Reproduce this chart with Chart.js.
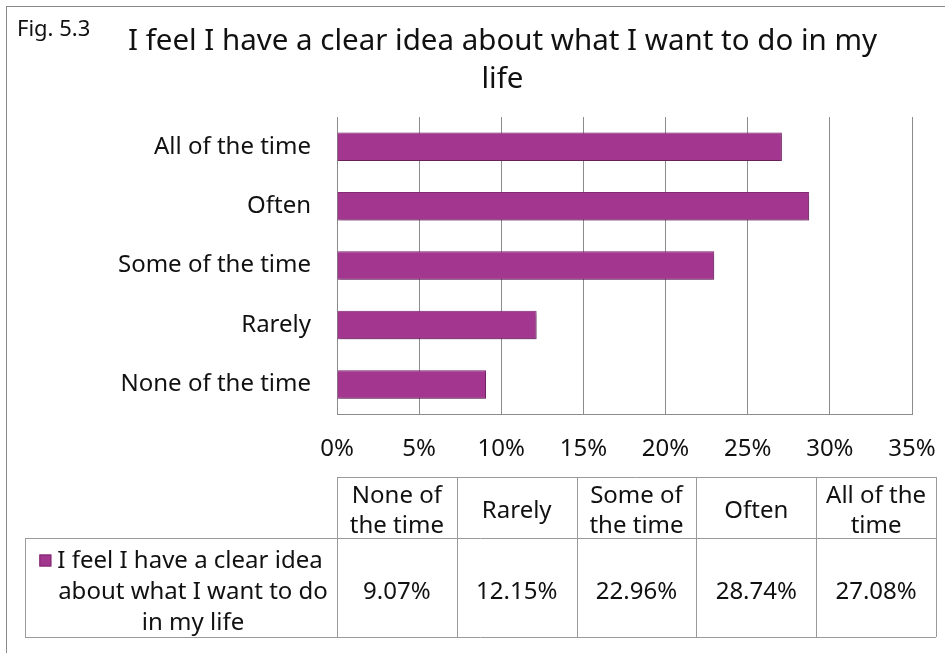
<!DOCTYPE html>
<html>
<head>
<meta charset="utf-8">
<script src="https://cdn.jsdelivr.net/npm/chart.js@4.4.0/dist/chart.umd.min.js"></script>
<style>
    html, body { margin: 0; padding: 0; background: #fff; }
    #wrap { width: 945px; height: 653px; }
</style>
</head>
<body>
<div id="wrap"><canvas id="chart" width="945" height="653"></canvas></div>
<script>
// data
const categories = ["None of the time", "Rarely", "Some of the time", "Often", "All of the time"];
const values = [9.07, 12.15, 22.96, 28.74, 27.08];
const seriesName = "I feel I have a clear idea about what I want to do in my life";
const seriesLabelLines = ["I feel I have a clear idea", "about what I want to do", "in my life"];
const titleLines = ["I feel I have a clear idea about what I want to do in my", "life"];
const figLabel = "Fig. 5.3";
const xTicks = [0, 5, 10, 15, 20, 25, 30, 35];

const FONT = "'Noto Sans', sans-serif";
const TEXT = "#111";
const BAR = "#a3368f";
const GRID = "#8c8c8c";
const TABLE_LINE = "#9a9a9a";

// table box below the plot
const tableBox = { left: 25, top: 477, headerBottom: 538, bottom: 637, right: 936 };

const wrapText = (ctx, text, maxWidth) => {
    const words = text.split(" ");
    const lines = [];
    let line = "";
    words.forEach(w => {
        const test = line ? line + " " + w : w;
        if (line && ctx.measureText(test).width > maxWidth) {
            lines.push(line);
            line = w;
        } else line = test;
    });
    if (line) lines.push(line);
    return lines;
};

const framePlugin = {
    id: "frame",
    beforeDraw(chart) {
        const { ctx, width, height } = chart;
        ctx.save();
        ctx.fillStyle = "#fff";
        ctx.fillRect(0, 0, width, height);
        ctx.strokeStyle = "#8a8a8a";
        ctx.lineWidth = 1;
        ctx.strokeRect(6.5, 6.5, width + 20, height + 20);
        ctx.fillStyle = TEXT;
        ctx.font = `22px ${FONT}`;
        ctx.textBaseline = "alphabetic";
        ctx.fillText(figLabel, 17, 36);
        ctx.restore();
    }
};

const shadowPlugin = {
    id: "barShadow",
    beforeDatasetsDraw(chart) {
        const ctx = chart.ctx;
        ctx.save();
        ctx.shadowColor = "rgba(0,0,0,0.35)";
        ctx.shadowBlur = 4;
        ctx.shadowOffsetX = 1;
        ctx.shadowOffsetY = 2;
    },
    afterDatasetsDraw(chart) {
        chart.ctx.restore();
    }
};

const tablePlugin = {
    id: "dataTable",
    afterDraw(chart) {
        const { ctx, chartArea } = chart;
        const colLeft = chartArea.left;
        const colW = (tableBox.right - colLeft) / categories.length;
        ctx.save();
        ctx.strokeStyle = TABLE_LINE;
        ctx.lineWidth = 1;

        ctx.beginPath();
        ctx.moveTo(colLeft, tableBox.top + 0.5);
        ctx.lineTo(tableBox.right, tableBox.top + 0.5);
        ctx.moveTo(tableBox.left, tableBox.headerBottom + 0.5);
        ctx.lineTo(tableBox.right, tableBox.headerBottom + 0.5);
        ctx.moveTo(tableBox.left, tableBox.bottom + 0.5);
        ctx.lineTo(tableBox.right, tableBox.bottom + 0.5);
        ctx.moveTo(tableBox.left + 0.5, tableBox.headerBottom);
        ctx.lineTo(tableBox.left + 0.5, tableBox.bottom);
        for (let i = 0; i <= categories.length; i++) {
            const x = Math.round(colLeft + i * colW) + 0.5;
            ctx.moveTo(x, tableBox.top);
            ctx.lineTo(x, tableBox.bottom);
        }
        ctx.stroke();

        ctx.fillStyle = TEXT;
        ctx.font = `24px ${FONT}`;
        ctx.textAlign = "center";
        ctx.textBaseline = "middle";
        const lh = 30;
        const headMid = (tableBox.top + tableBox.headerBottom) / 2 + 4;
        const rowMid = (tableBox.headerBottom + tableBox.bottom) / 2 + 5;

        categories.forEach((c, i) => {
            const cx = colLeft + (i + 0.5) * colW;
            const lines = wrapText(ctx, c, colW - 6);
            lines.forEach((l, k) => {
                ctx.fillText(l, cx, headMid + (k - (lines.length - 1) / 2) * lh);
            });
            ctx.fillText(values[i].toFixed(2) + "%", cx, rowMid);
        });

        // series label with legend key
        const cellMid = (tableBox.left + colLeft) / 2;
        const keySize = 12, keyGap = 6;
        seriesLabelLines.forEach((l, k) => {
            const y = rowMid + (k - 1) * 31;
            if (k === 0) {
                const tw = ctx.measureText(l).width;
                const startX = cellMid - (tw + keySize + keyGap) / 2;
                ctx.fillStyle = BAR;
                ctx.fillRect(startX, y - keySize / 2 - 1, keySize, keySize);
                ctx.strokeStyle = "#7f2670";
                ctx.strokeRect(startX + 0.5, y - keySize / 2 - 0.5, keySize - 1, keySize - 1);
                ctx.fillStyle = TEXT;
                ctx.textAlign = "left";
                ctx.fillText(l, startX + keySize + keyGap, y);
                ctx.textAlign = "center";
            } else {
                ctx.fillText(l, cellMid + 12, y);
            }
        });
        ctx.restore();
    }
};

const ctx = document.getElementById("chart").getContext("2d");
const chart = new Chart(ctx, {
    type: "bar",
    data: {
        labels: categories,
        datasets: [{
            label: seriesName,
            data: values,
            backgroundColor: BAR,
            borderColor: "#8a2c7a",
            borderWidth: 1,
            barPercentage: 0.48,
            categoryPercentage: 1
        }]
    },
    options: {
        indexAxis: "y",
        responsive: false,
        animation: false,
        events: [],
        layout: { padding: { left: 60, right: 0, top: 0, bottom: 168 } },
        plugins: {
            legend: { display: false },
            tooltip: { enabled: false },
            title: {
                display: true,
                text: titleLines,
                color: TEXT,
                font: { family: FONT, size: 29.5, weight: "normal", lineHeight: "38px" },
                padding: { top: 23, bottom: 18 }
            }
        },
        scales: {
            x: {
                min: 0,
                max: 35,
                afterBuildTicks: s => { s.ticks = xTicks.map(v => ({ value: v })); },
                afterFit: s => { s.paddingRight = 33; },
                ticks: {
                    callback: v => v + "%",
                    color: TEXT,
                    font: { family: FONT, size: 24 },
                    padding: 21,
                    maxRotation: 0
                },
                grid: { color: GRID, drawTicks: false },
                border: { color: GRID }
            },
            y: {
                reverse: true,
                afterFit: s => { s.width = 277; },
                grid: { display: false },
                border: { color: GRID },
                ticks: {
                    color: TEXT,
                    font: { family: FONT, size: 24 },
                    padding: 18
                }
            }
        }
    },
    plugins: [framePlugin, shadowPlugin, tablePlugin]
});
</script>
</body>
</html>
